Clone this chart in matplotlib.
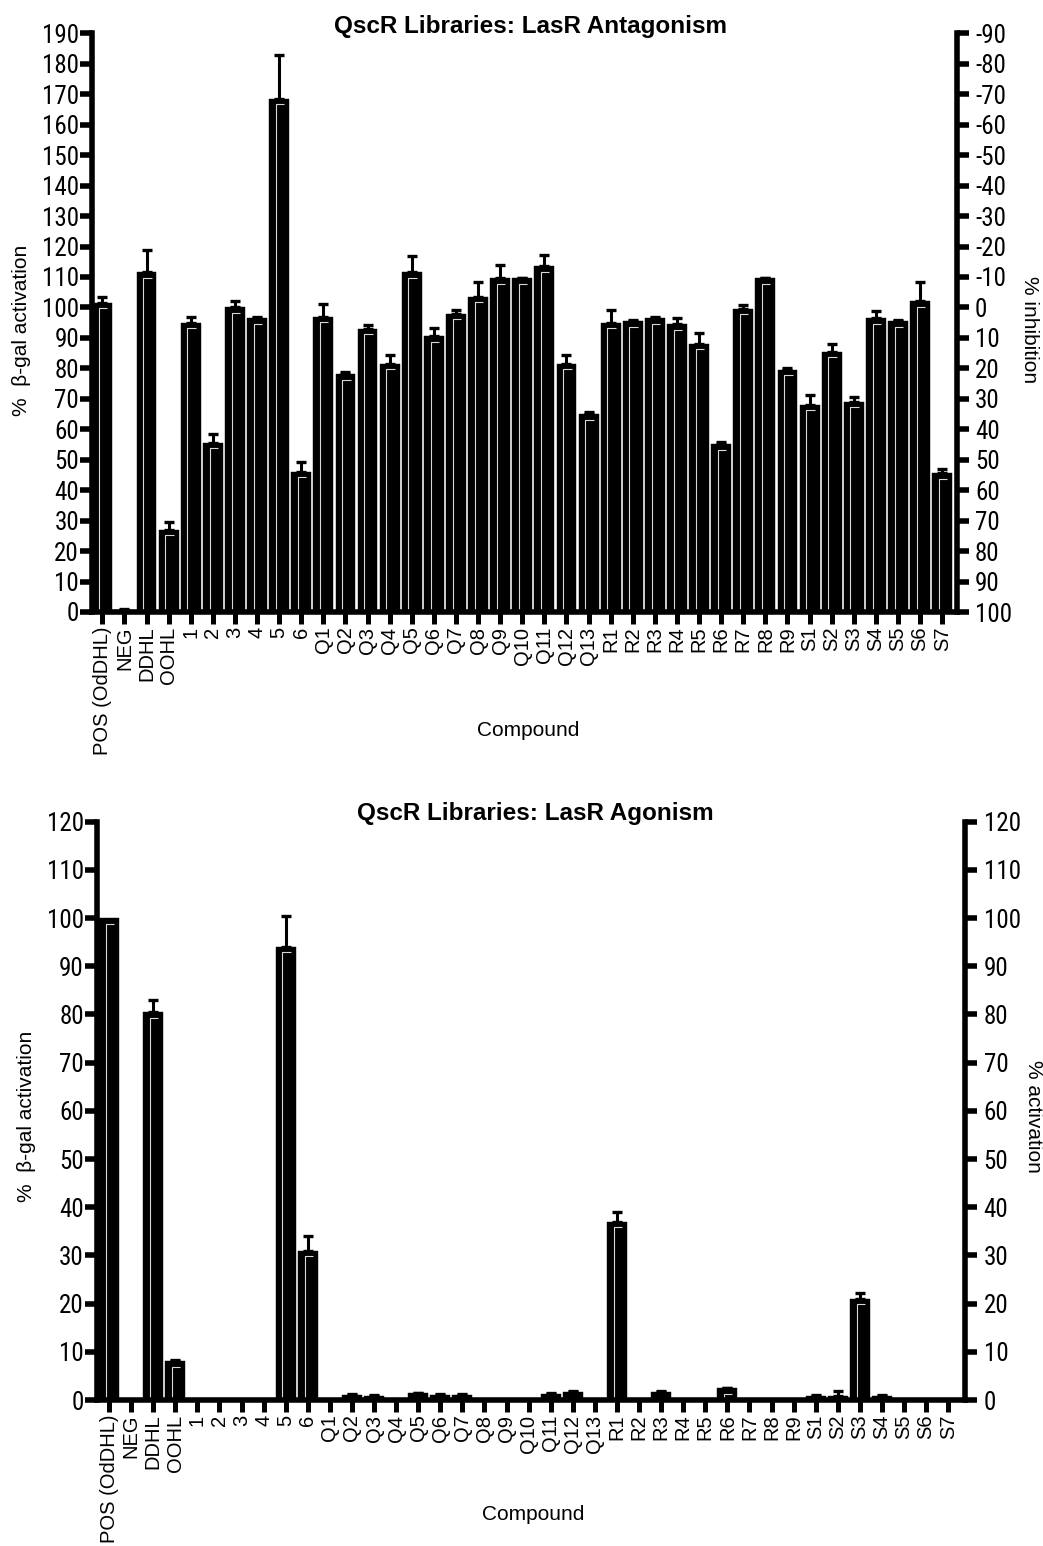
import numpy as np
import matplotlib
matplotlib.use("Agg")
import matplotlib.pyplot as plt
from matplotlib import font_manager

plt.rcParams["axes.unicode_minus"] = False

# ---- data -------------------------------------------------------------
compounds = (["POS (OdDHL)", "NEG", "DDHL", "OOHL", "1", "2", "3", "4", "5", "6"]
             + [f"Q{i}" for i in range(1, 14)]
             + [f"R{i}" for i in range(1, 10)]
             + [f"S{i}" for i in range(1, 8)])

# % beta-gal activation in the LasR antagonism assay (mean, upper SD)
antagonism = [101.5, 0.8, 111.5, 27, 95, 55.5, 100, 96.5, 168.5, 46,
              97, 78, 93, 81.5, 111.5, 90.5, 98, 103.5, 109.5, 109.5, 113.5, 81.5, 65,
              95, 95.5, 96.5, 94.5, 88, 55, 99.5, 109.5, 79.5,
              68, 85.5, 69, 96.5, 95.5, 102, 45.5]
antagonism_err = [1.8, 0.3, 7.5, 2.5, 1.7, 2.8, 2.2, 0.4, 14.5, 3.3,
                  4, 0.7, 1.2, 3, 5.3, 2.8, 1.2, 5, 4.5, 0.3, 3.6, 3, 0.8,
                  4.2, 0.3, 0.3, 2, 3.5, 0.8, 1.3, 0.3, 0.5,
                  3.3, 2.5, 1.5, 2.3, 0.3, 6.5, 1.3]

# % beta-gal activation in the LasR agonism assay (mean, upper SD)
agonism = [100, 0, 80.5, 8, 0, 0, 0, 0, 94, 31,
           0, 1.0, 0.9, 0, 1.4, 1.0, 1.0, 0, 0, 0, 1.2, 1.7, 0,
           37, 0, 1.7, 0, 0, 2.4, 0, 0, 0,
           0.9, 0.9, 21, 0.8, 0, 0, 0]
agonism_err = [0, 0, 2.6, 0.3, 0, 0, 0, 0, 6.4, 3,
               0, 0.2, 0.2, 0, 0.1, 0.2, 0.2, 0, 0, 0, 0.2, 0.2, 0,
               2, 0, 0.2, 0, 0, 0.1, 0, 0, 0,
               0.2, 0.9, 1.1, 0.2, 0, 0, 0]

# ---- fonts ------------------------------------------------------------
_names = {f.name for f in font_manager.fontManager.ttflist}
SANS = "Liberation Sans" if "Liberation Sans" in _names else "DejaVu Sans"
NARROW, NUM_SIZE = SANS, 15.5
for _fam, _size in (("Liberation Sans Narrow", 18), ("Roboto Condensed", 18),
                    ("Archivo Narrow", 18), ("PT Sans Narrow", 18.5)):
    if _fam in _names:
        NARROW, NUM_SIZE = _fam, _size
        break

W, H = 1043, 1546
fig = plt.figure(figsize=(W / 100, H / 100), dpi=100)


def px_axes(left, right, top, bottom):
    """Axes rectangle given in pixel coordinates (origin top-left)."""
    return fig.add_axes([left / W, (H - bottom) / H, (right - left) / W, (bottom - top) / H])


def panel(ax, values, errs, ymax, right_lim, right_ticks, xlim, right_pad):
    values = np.asarray(values, float)
    errs = np.asarray(errs, float)
    x = np.arange(len(values))

    ax.bar(x, values, width=0.9, color="black", edgecolor="black", linewidth=0.3, zorder=1)
    has = errs > 0
    ax.errorbar(x[has], values[has], yerr=[np.zeros(has.sum()), errs[has]], fmt="none",
                ecolor="black", elinewidth=2.2, capsize=3.4, capthick=2.4, zorder=3)

    # light inner edge drawn inside each bar
    bbox = ax.get_position()
    ppu = bbox.height * H / ymax
    dy = 5.5 / ppu
    for xi, v in zip(x, values):
        if v * ppu > 9:
            ax.plot([xi - 0.15, xi - 0.15, xi + 0.23], [0, v - dy, v - dy],
                    color="#d8d8d8", lw=0.8, zorder=2, solid_capstyle="butt")

    ax.set_xlim(*xlim)
    ax.set_ylim(0, ymax)
    ax.set_yticks(np.arange(0, ymax + 1, 10))
    ax.set_xticks(x)
    ax.set_xticklabels(compounds, rotation=90, fontsize=14.5, family=SANS)
    for lab in ax.get_yticklabels():
        lab.set_family(NARROW)
        lab.set_fontsize(NUM_SIZE)

    for s in ("top", "right"):
        ax.spines[s].set_visible(False)
    for s in ("left", "bottom"):
        ax.spines[s].set_linewidth(4)
    ax.tick_params(axis="y", length=8.5, width=4, pad=0.5)
    ax.tick_params(axis="x", length=8.5, width=3.6, pad=2)

    twin = ax.twinx()
    twin.set_ylim(*right_lim)
    twin.set_yticks(right_ticks)
    for s in ("top", "left", "bottom"):
        twin.spines[s].set_visible(False)
    twin.spines["right"].set_linewidth(4)
    twin.tick_params(axis="y", length=8.5, width=4, pad=right_pad)
    for lab in twin.get_yticklabels():
        lab.set_family(NARROW)
        lab.set_fontsize(NUM_SIZE)
    return twin


# ---- top panel: antagonism --------------------------------------------
ax1 = px_axes(91.5, 957, 33.3, 612)
panel(ax1, antagonism, antagonism_err, 190, (100, -90), np.arange(-90, 101, 10),
      (-0.49, 38.67), right_pad=4.5)

fig.text(530 / W, 1 - 32.5 / H, "QscR Libraries: LasR Antagonism", ha="center", va="baseline",
         fontsize=17.5, fontweight="bold", family=SANS)
fig.text(22 / W, 1 - 330 / H, "%  \u03b2-gal activation", rotation=90, ha="center", va="center",
         fontsize=15, family=[SANS, "DejaVu Sans"])
fig.text(1030 / W, 1 - 330 / H, "% inhibition", rotation=-90, ha="center", va="center",
         fontsize=15, family=SANS)
fig.text(528 / W, 1 - 730 / H, "Compound", ha="center", va="center", fontsize=15, family=SANS)

# ---- bottom panel: agonism --------------------------------------------
ax2 = px_axes(96.5, 965, 821.7, 1400)
panel(ax2, agonism, agonism_err, 120, (0, 120), np.arange(0, 121, 10),
      (-0.57, 38.76), right_pad=5)

fig.text(535 / W, 1 - 820 / H, "QscR Libraries: LasR Agonism", ha="center", va="baseline",
         fontsize=17.5, fontweight="bold", family=SANS)
fig.text(27 / W, 1 - 1116 / H, "%  \u03b2-gal activation", rotation=90, ha="center", va="center",
         fontsize=15, family=[SANS, "DejaVu Sans"])
fig.text(1033 / W, 1 - 1116 / H, "% activation", rotation=-90, ha="center", va="center",
         fontsize=15, family=SANS)
fig.text(533 / W, 1 - 1515 / H, "Compound", ha="center", va="center", fontsize=15, family=SANS)

fig.savefig("out.png", dpi=100, facecolor="white")
